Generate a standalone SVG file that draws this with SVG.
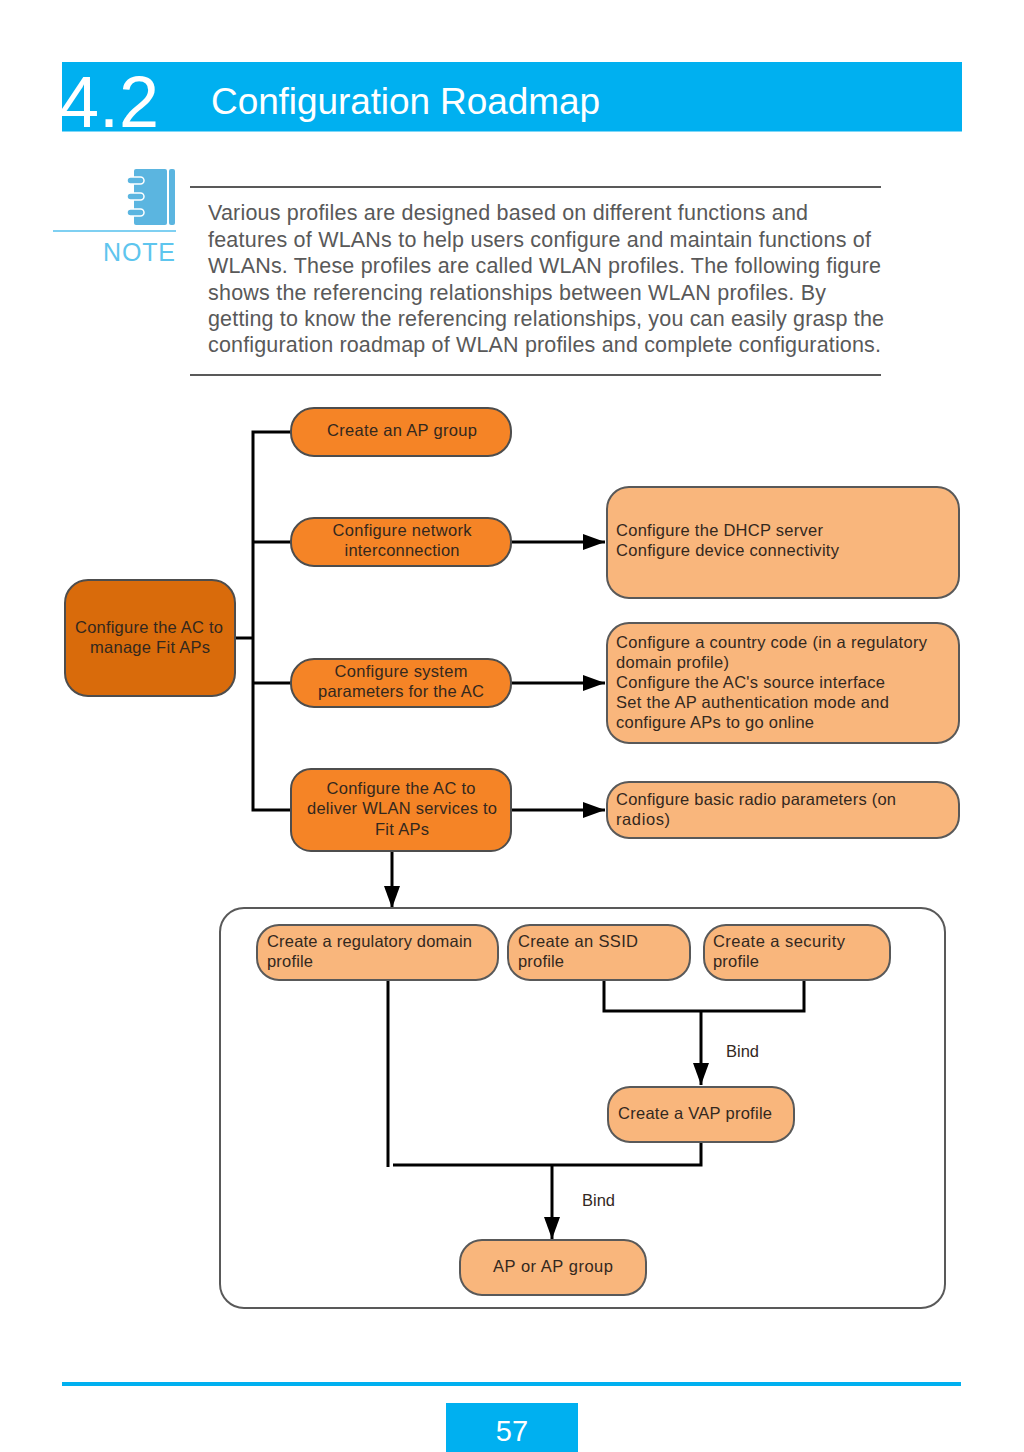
<svg xmlns="http://www.w3.org/2000/svg" width="1024" height="1452" viewBox="0 0 1024 1452">
<style>
text{font-family:"Liberation Sans",Arial,sans-serif}
.body{font-size:21.5px;fill:#595959}
.t{font-size:16.5px;fill:#33281e}
.m{text-anchor:middle}
.dark{fill:#d96b0b;stroke:#4d4d4d;stroke-width:2}
.mid{fill:#f58426;stroke:#4d4d4d;stroke-width:2}
.light{fill:#f9b67c;stroke:#595959;stroke-width:2}
.conn{fill:none;stroke:#000;stroke-width:3}
.rule{stroke:#595959;stroke-width:2}
</style>
<defs>
<marker id="arrow" markerUnits="userSpaceOnUse" markerWidth="24" markerHeight="18" refX="22" refY="8" orient="auto"><path d="M0 0L22 8L0 16Z" fill="#000"/></marker>
</defs>
<g id="header">
<rect x="62" y="62" width="900" height="69.5" fill="#00b0f0"/>
<text x="59" y="127" font-size="72" fill="#fff">4.2</text>
<text x="211" y="114" font-size="37" fill="#fff" textLength="389">Configuration Roadmap</text>
</g>
<g id="note">
<rect x="134" y="169" width="33" height="56" rx="2" fill="#5bb5e0"/>
<rect x="169" y="169" width="6" height="56" rx="2" fill="#5bb5e0"/>
<g fill="#5bb5e0" stroke="#fff" stroke-width="1.5"><rect x="127" y="177" width="17" height="7" rx="3.5"/><rect x="127" y="193" width="17" height="7" rx="3.5"/><rect x="127" y="209" width="17" height="7" rx="3.5"/></g>
<rect x="53" y="230" width="123" height="2" fill="#7fd0f2"/>
<text x="103" y="261" font-size="25" fill="#5ec5ee" textLength="72">NOTE</text>
<line class="rule" x1="190" y1="187" x2="881" y2="187"/>
<text class="body" x="208" y="220" textLength="600">Various profiles are designed based on different functions and</text>
<text class="body" x="208" y="247" textLength="663">features of WLANs to help users configure and maintain functions of</text>
<text class="body" x="208" y="273" textLength="673">WLANs. These profiles are called WLAN profiles. The following figure</text>
<text class="body" x="208" y="300" textLength="618">shows the referencing relationships between WLAN profiles. By</text>
<text class="body" x="208" y="326" textLength="676">getting to know the referencing relationships, you can easily grasp the</text>
<text class="body" x="208" y="352" textLength="673">configuration roadmap of WLAN profiles and complete configurations.</text>
<line class="rule" x1="190" y1="375" x2="881" y2="375"/>
</g>
<g id="connectors">
<path class="conn" d="M236 638H253"/>
<path class="conn" d="M291 432H253V810H291"/>
<path class="conn" d="M253 542H291"/>
<path class="conn" d="M253 683H291"/>
<path class="conn" d="M512 542H605" marker-end="url(#arrow)"/>
<path class="conn" d="M512 683H605" marker-end="url(#arrow)"/>
<path class="conn" d="M512 810H605" marker-end="url(#arrow)"/>
<path class="conn" d="M392 852V908" marker-end="url(#arrow)"/>
<path class="conn" d="M388 980V1167"/>
<path class="conn" d="M604 980V1011H804V980"/>
<path class="conn" d="M701 1011V1085" marker-end="url(#arrow)"/>
<path class="conn" d="M393 1165H701V1142"/>
<path class="conn" d="M552 1165V1239" marker-end="url(#arrow)"/>
</g>
<g id="container"><rect x="220" y="908" width="725" height="400" rx="24" fill="none" stroke="#595959" stroke-width="2"/></g>
<g id="n1"><rect class="dark" x="65" y="580" width="170" height="116" rx="23"/><text class="t m" x="149" y="633" textLength="148">Configure the AC to</text><text class="t m" x="150" y="653" textLength="120">manage Fit APs</text></g>
<g id="n2"><rect class="mid" x="291" y="408" width="220" height="48" rx="23"/><text class="t m" x="402" y="436" textLength="150">Create an AP group</text></g>
<g id="n3"><rect class="mid" x="291" y="518" width="220" height="48" rx="23"/><text class="t m" x="402" y="536" textLength="139">Configure network</text><text class="t m" x="402" y="556" textLength="115">interconnection</text></g>
<g id="n4"><rect class="mid" x="291" y="659" width="220" height="48" rx="23"/><text class="t m" x="401" y="677" textLength="133">Configure system</text><text class="t m" x="401" y="697" textLength="166">parameters for the AC</text></g>
<g id="n5"><rect class="mid" x="291" y="769" width="220" height="82" rx="20"/><text class="t m" x="401" y="794" textLength="149">Configure the AC to</text><text class="t m" x="402" y="814" textLength="190">deliver WLAN services to</text><text class="t m" x="402" y="835" textLength="54">Fit APs</text></g>
<g id="n6"><rect class="light" x="607" y="487" width="352" height="111" rx="22"/><text class="t" x="616" y="536" textLength="207">Configure the DHCP server</text><text class="t" x="616" y="556" textLength="223">Configure device connectivity</text></g>
<g id="n7"><rect class="light" x="607" y="623" width="352" height="120" rx="22"/><text class="t" x="616" y="648" textLength="311">Configure a country code (in a regulatory</text><text class="t" x="616" y="668" textLength="113">domain profile)</text><text class="t" x="616" y="688" textLength="269">Configure the AC's source interface</text><text class="t" x="616" y="708" textLength="273">Set the AP authentication mode and</text><text class="t" x="616" y="728" textLength="198">configure APs to go online</text></g>
<g id="n8"><rect class="light" x="607" y="782" width="352" height="56" rx="22"/><text class="t" x="616" y="805" textLength="280">Configure basic radio parameters (on</text><text class="t" x="616" y="825" textLength="54">radios)</text></g>
<g id="n9"><rect class="light" x="257" y="925" width="241" height="55" rx="22"/><text class="t" x="267" y="947" textLength="205">Create a regulatory domain</text><text class="t" x="267" y="967" textLength="46">profile</text></g>
<g id="n10"><rect class="light" x="508" y="925" width="182" height="55" rx="22"/><text class="t" x="518" y="947" textLength="120">Create an SSID</text><text class="t" x="518" y="967" textLength="46">profile</text></g>
<g id="n11"><rect class="light" x="704" y="925" width="186" height="55" rx="22"/><text class="t" x="713" y="947" textLength="132">Create a security</text><text class="t" x="713" y="967" textLength="46">profile</text></g>
<g id="n12"><rect class="light" x="608" y="1087" width="186" height="55" rx="22"/><text class="t" x="618" y="1119" textLength="154">Create a VAP profile</text></g>
<g id="n13"><rect class="light" x="460" y="1240" width="186" height="55" rx="22"/><text class="t m" x="553" y="1272" textLength="120">AP or AP group</text></g>
<g id="labels"><text class="t" x="726" y="1057" textLength="33">Bind</text><text class="t" x="582" y="1206" textLength="33">Bind</text></g>
<g id="footer">
<rect x="62" y="1382" width="899" height="4" fill="#00b0f0"/>
<rect x="446" y="1403" width="132" height="49" fill="#00b0f0"/>
<text x="512" y="1441" font-size="29" fill="#fff" text-anchor="middle">57</text>
</g>
</svg>
